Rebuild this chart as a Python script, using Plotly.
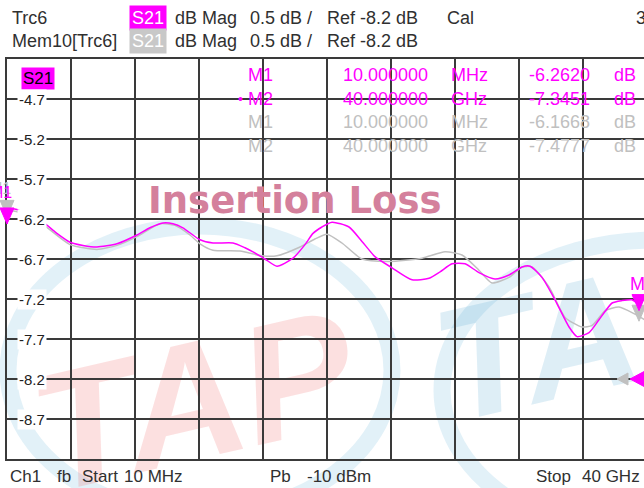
import plotly.graph_objects as go

# --- trace data (frequency in GHz, S21 in dB) ---
freq_trc = [0.01, 0.20, 0.63, 1.45, 2.26, 3.07, 3.95, 4.76, 5.63, 6.88, 8.13, 8.94, 9.76,
            10.38, 11.00, 12.07, 12.88, 14.13, 14.88, 15.38, 16.13, 16.88, 17.88, 18.63,
            19.13, 19.69, 20.32, 21.38, 22.19, 23.00, 24.07, 25.32, 26.38, 27.07, 27.82,
            28.63, 29.50, 30.50, 31.38, 32.19, 32.69, 33.44, 34.25, 35.13, 35.63, 36.38,
            37.00, 37.82, 38.44, 39.06, 39.56, 40.00]
s21_trc = [-6.262, -6.08, -6.08, -6.17, -6.24, -6.37, -6.49, -6.53, -6.55, -6.51, -6.40,
           -6.31, -6.25, -6.26, -6.31, -6.46, -6.50, -6.50, -6.56, -6.61, -6.70, -6.79,
           -6.69, -6.52, -6.38, -6.30, -6.24, -6.30, -6.48, -6.67, -6.81, -6.96, -6.94,
           -6.86, -6.76, -6.76, -6.87, -6.95, -6.90, -6.80, -6.79, -6.93, -7.21, -7.55,
           -7.67, -7.62, -7.46, -7.25, -7.22, -7.21, -7.28, -7.345]

freq_mem = [0.01, 0.20, 0.82, 2.26, 3.95, 5.63, 6.88, 8.13, 9.57, 10.50, 11.44, 12.07,
            12.88, 14.57, 15.94, 16.88, 18.32, 19.25, 20.00, 20.94, 22.19, 23.88, 25.94,
            27.38, 28.44, 29.50, 30.32, 31.38, 32.19, 32.82, 33.88, 34.88, 35.94, 36.57,
            37.38, 38.25, 39.25, 40.00]
s21_mem = [-6.167, -6.10, -6.12, -6.27, -6.52, -6.58, -6.53, -6.42, -6.26, -6.28, -6.40,
           -6.51, -6.59, -6.60, -6.66, -6.66, -6.55, -6.45, -6.39, -6.50, -6.70, -6.73,
           -6.69, -6.61, -6.65, -6.84, -7.00, -6.93, -6.80, -6.80, -7.05, -7.43, -7.55,
           -7.53, -7.35, -7.30, -7.39, -7.478]

# marker readouts
marker_names = ["M1", "M2"]
marker_freq_txt = ["10.000000", "40.000000"]
marker_unit = ["MHz", "GHz"]
marker_trc = [-6.2620, -7.3451]
marker_mem = [-6.1668, -7.4777]

y_ticks = [-4.7, -5.2, -5.7, -6.2, -6.7, -7.2, -7.7, -8.2, -8.7]
y_min, y_max = -9.2, -4.2
ref_level = -8.2

MAG = "#FF00FF"
GRAY = "#C0C0C0"
TXT = "#303030"
FONT = "Liberation Sans"

# plot area in pixels: left 7, top 59, 637 wide (screen cuts the last 3 px), 400 high
L, T, W, H = 7, 59, 637, 400


def px(x):
    return (x - L) / W


def py(y):
    return (T + H - y) / H


def pv(v):
    return (v - y_min) / (y_max - y_min)


fig = go.Figure()
fig.add_trace(go.Scatter(x=freq_mem, y=s21_mem, mode="lines", name="Mem10[Trc6]",
                         line=dict(color=GRAY, width=1.5, shape="spline", smoothing=0.6)))
fig.add_trace(go.Scatter(x=freq_trc, y=s21_trc, mode="lines", name="Trc6",
                         line=dict(color=MAG, width=1.5, shape="spline", smoothing=0.6)))

shapes = []
# watermark (below grid)
shapes.append(dict(type="circle", xref="paper", yref="paper", layer="below",
                   x0=px(8), x1=px(392), y0=py(515), y1=py(226),
                   line=dict(color="rgba(110,185,220,0.2)", width=17)))
shapes.append(dict(type="circle", xref="paper", yref="paper", layer="below",
                   x0=px(442), x1=px(870), y0=py(540), y1=py(240),
                   line=dict(color="rgba(110,185,220,0.2)", width=17)))
shapes.append(dict(type="rect", xref="paper", yref="paper", layer="below",
                   x0=px(40), x1=px(340), y0=py(470), y1=py(300),
                   line=dict(width=0), fillcolor="rgba(0,0,0,0)",
                   label=dict(text="TAP", textangle=-13, textposition="middle center",
                              font=dict(family=FONT, size=168, weight="bold", style="italic",
                                        color="rgba(240,70,70,0.17)"))))
shapes.append(dict(type="rect", xref="paper", yref="paper", layer="below",
                   x0=px(430), x1=px(740), y0=py(400), y1=py(240),
                   line=dict(width=0), fillcolor="rgba(0,0,0,0)",
                   label=dict(text="TAP", textangle=-13, textposition="middle center",
                              font=dict(family=FONT, size=160, weight="bold", style="italic",
                                        color="rgba(90,170,210,0.2)"))))

# marker triangles, tip on the marker value (paper refs so they are not clipped)
for xp, v, col in [(7, marker_mem[0], GRAY), (7, marker_trc[0], MAG),
                   (639, marker_mem[1], GRAY), (639, marker_trc[1], MAG)]:
    shapes.append(dict(type="path", xref="paper", yref="paper", xsizemode="pixel",
                       ysizemode="pixel", xanchor=px(xp), yanchor=pv(v),
                       path="M0,0 L-7,16 L7,16 Z",
                       fillcolor=col, line=dict(color=col, width=1)))

# reference level arrows on the right edge
shapes.append(dict(type="path", xref="paper", yref="paper", xsizemode="pixel",
                   ysizemode="pixel", xanchor=px(647), yanchor=pv(ref_level),
                   path="M-30,0 L-19,6 L-19,-6 Z",
                   fillcolor=GRAY, line=dict(color=GRAY, width=1)))
shapes.append(dict(type="path", xref="paper", yref="paper", xsizemode="pixel",
                   ysizemode="pixel", xanchor=px(647), yanchor=pv(ref_level),
                   path="M-17,0 L-2,8 L-2,-8 Z",
                   fillcolor=MAG, line=dict(color=MAG, width=1)))

ann = []


def text(x, y, s, color=TXT, size=18, **kw):
    d = dict(xref="paper", yref="paper", x=px(x), y=py(y), text=s, showarrow=False,
             xanchor="left", yanchor="middle", font=dict(family=FONT, size=size, color=color))
    d.update(kw)
    ann.append(d)


# header
text(10, 18, "Trc6")
text(129, 18, "S21", color="white", bgcolor=MAG, borderpad=2)
text(173, 18, "dB Mag")
text(248, 18, "0.5 dB /")
text(325, 18, "Ref -8.2 dB")
text(445, 18, "Cal")
text(634, 18, "3")
text(10, 41, "Mem10[Trc6]")
text(129, 41, "S21", color="white", bgcolor="#C8C8C8", borderpad=2)
text(173, 41, "dB Mag")
text(248, 41, "0.5 dB /")
text(325, 41, "Ref -8.2 dB")

# trace label box and y labels inside the grid
text(21, 78, "S21", color="black", size=17, bgcolor=MAG, borderpad=1)
for v in y_ticks:
    ann.append(dict(xref="paper", yref="y", x=px(17), y=v, text=f"{v:.1f}", showarrow=False,
                    xanchor="left", yanchor="middle", bgcolor="white", borderpad=1,
                    font=dict(family=FONT, size=15, color="#202020")))

# marker readout table
rows = [(75, MAG, 0, marker_trc), (99, MAG, 1, marker_trc),
        (122, GRAY, 0, marker_mem), (146, GRAY, 1, marker_mem)]
for y, col, i, vals in rows:
    text(246, y, marker_names[i], color=col)
    text(341, y, marker_freq_txt[i], color=col)
    text(449, y, marker_unit[i], color=col)
    text(592, y, f"{vals[i]:.4f}", color=col, xanchor="right")
    text(612, y, "dB", color=col)
text(236, 99, "•", color=MAG, size=14)

# marker labels near the triangles
text(13, 188, "M1", color=GRAY, size=16, xanchor="right")
text(14, 192, "M1", color=MAG, size=16, xanchor="right")
text(628, 284, "M2", color=MAG, size=18)

# title watermark
text(295, 200, "<b>Insertion Loss</b>", color="#D4809C", size=37, xanchor="center")
ann[-1]["font"]["family"] = "DejaVu Sans"

# footer
text(8, 476, "Ch1", size=17)
text(55, 476, "fb", size=17)
text(80, 476, "Start", size=17)
text(122, 476, "10 MHz", size=17)
text(268, 476, "Pb", size=17)
text(305, 476, "-10 dBm", size=17)
text(534, 476, "Stop", size=17)
text(580, 476, "40 GHz", size=17)

fig.update_layout(
    width=644, height=488,
    margin=dict(l=L, r=0, t=T, b=488 - T - H, pad=0),
    paper_bgcolor="white", plot_bgcolor="white",
    showlegend=False,
    shapes=shapes, annotations=ann,
)
grid = dict(showgrid=True, gridcolor="#3a3a3a", gridwidth=2, zeroline=False,
            showticklabels=False, ticks="", showline=True, linecolor="#3a3a3a", linewidth=2)
fig.update_xaxes(range=[0.01, 0.01 + 39.99 * W / 640], tick0=0.01, dtick=3.999,
                 mirror=True, **grid)
fig.update_yaxes(range=[y_min, y_max], tick0=y_max, dtick=0.5, **grid)

# drop the default 8px body margin so the figure sits at the window's top-left
fig.write_html("out.html", config={"displayModeBar": False},
               post_script="document.body.style.margin='0';")
